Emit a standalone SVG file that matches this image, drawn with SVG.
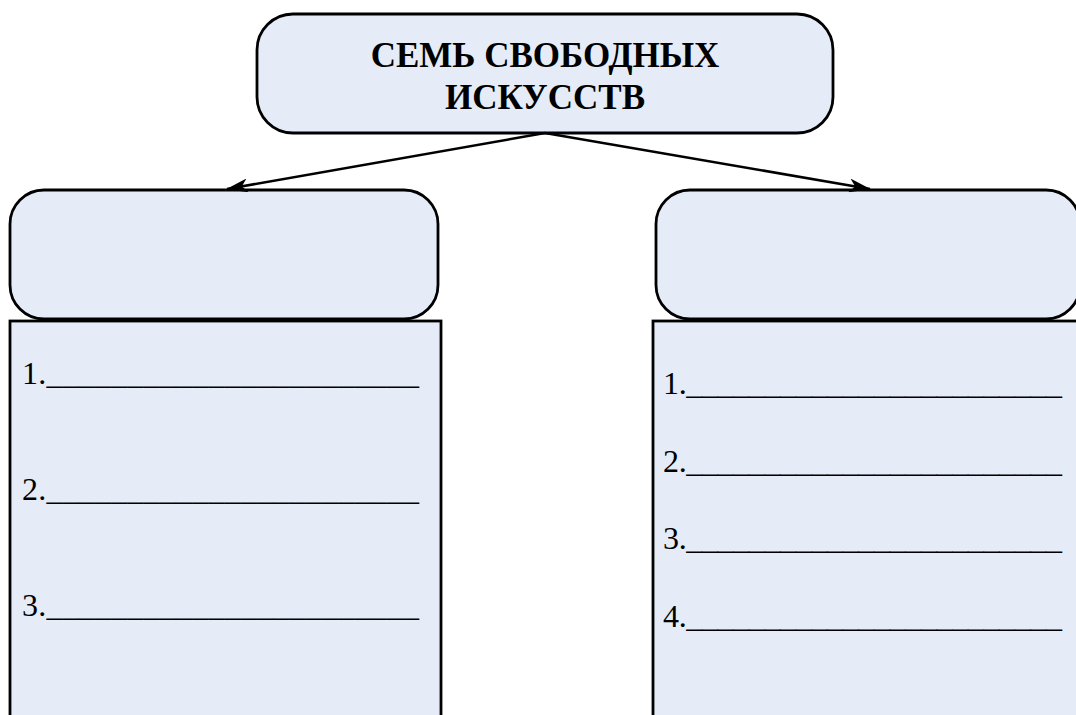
<svg xmlns="http://www.w3.org/2000/svg" width="1076" height="715" viewBox="0 0 1076 715">
<style>
.box{fill:#E5ECF7;stroke:#000;stroke-width:2.8}
.title{font-family:"Liberation Serif",serif;font-weight:bold;font-size:35px;fill:#000;text-anchor:middle}
.item{font-family:"Liberation Serif",serif;font-size:32px;fill:#000}
.conn{stroke:#000;stroke-width:2.5;fill:none}
</style>
<defs>
<marker id="arr" viewBox="0 0 22 14" refX="21" refY="7" markerWidth="22" markerHeight="14" markerUnits="userSpaceOnUse" orient="auto">
<path d="M0,0 L22,7 L0,14 L6,7 Z" fill="#000"/>
</marker>
</defs>
<rect width="1076" height="715" fill="#fff"/>
<g id="top">
<rect class="box" x="257" y="14" width="576" height="119" rx="36"/>
<text class="title" x="545" y="67">СЕМЬ СВОБОДНЫХ</text>
<text class="title" x="545" y="109">ИСКУССТВ</text>
</g>
<g id="left-head">
<rect class="box" x="10" y="190" width="428" height="129" rx="34"/>
</g>
<g id="left-list">
<rect class="box" x="10" y="321" width="431" height="420"/>
<text class="item" x="22" y="384" textLength="397" lengthAdjust="spacing">1._______________________</text>
<text class="item" x="22" y="500" textLength="397" lengthAdjust="spacing">2._______________________</text>
<text class="item" x="22" y="616" textLength="397" lengthAdjust="spacing">3._______________________</text>
</g>
<g id="right-head">
<rect class="box" x="656" y="190" width="424" height="129" rx="34"/>
</g>
<g id="right-list">
<rect class="box" x="653" y="321" width="440" height="420"/>
<text class="item" x="663" y="394" textLength="399" lengthAdjust="spacing">1.________________________</text>
<text class="item" x="663" y="472" textLength="399" lengthAdjust="spacing">2.________________________</text>
<text class="item" x="663" y="549" textLength="399" lengthAdjust="spacing">3.________________________</text>
<text class="item" x="663" y="627" textLength="399" lengthAdjust="spacing">4.________________________</text>
</g>
<g id="connectors">
<line class="conn" x1="545" y1="133" x2="227" y2="189" marker-end="url(#arr)"/>
<line class="conn" x1="545" y1="133" x2="870" y2="189" marker-end="url(#arr)"/>
</g>
</svg>
